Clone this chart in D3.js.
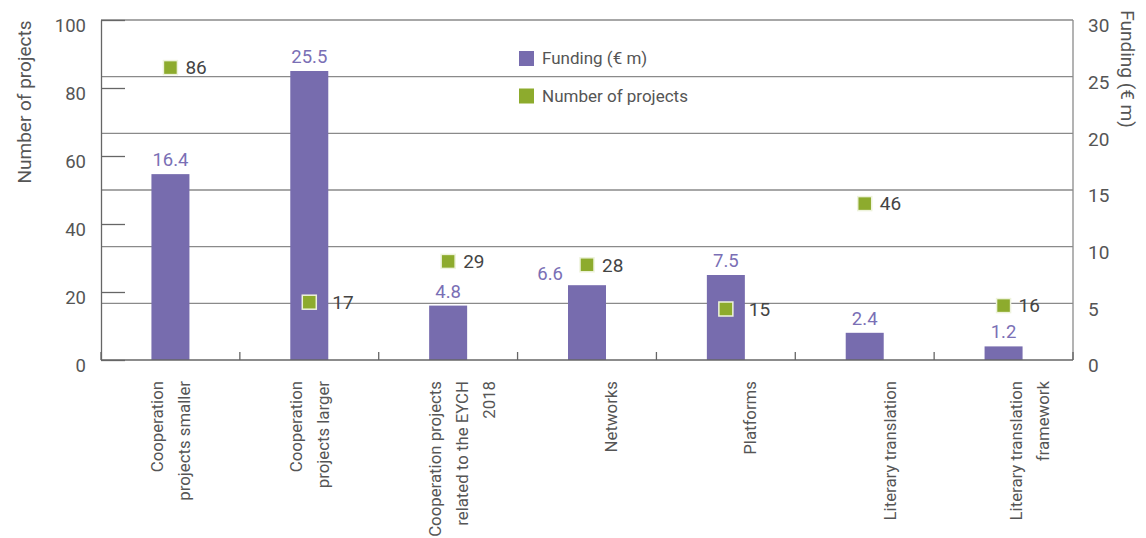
<!DOCTYPE html>
<html>
<head>
<meta charset="utf-8">
<script src="https://cdn.jsdelivr.net/npm/d3@7"></script>
<style>
  body { margin: 0; background: #fff; }
  text { font-family: Roboto, "Noto Sans", sans-serif; }
</style>
</head>
<body>
<svg id="chart"></svg>
<script>
/* data */
const categories = [
  "Cooperation projects smaller",
  "Cooperation projects larger",
  "Cooperation projects related to the EYCH 2018",
  "Networks",
  "Platforms",
  "Literary translation",
  "Literary translation framework"
];
const categoryLines = [
  ["Cooperation", "projects smaller"],
  ["Cooperation", "projects larger"],
  ["Cooperation projects", "related to the EYCH", "2018"],
  ["Networks"],
  ["Platforms"],
  ["Literary translation"],
  ["Literary translation", "framework"]
];
const funding = [16.4, 25.5, 4.8, 6.6, 7.5, 2.4, 1.2];
const projects = [86, 17, 29, 28, 15, 46, 16];
const leftTicks = [0, 20, 40, 60, 80, 100];
const rightTicks = [0, 5, 10, 15, 20, 25, 30];

/* layout */
const width = 1146, height = 538;
const plot = { left: 101, right: 1073, top: 20, bottom: 360 };
const labelNudge = [0, 0, 14, 24, 24, 25, 26];
const purple = "#776cae";
const green = "#8dab2d";
const textCol = "#555";

let svg = d3.select("#chart")
  .attr("width", width)
  .attr("height", height);

let x = d3.scaleBand()
  .domain(categories)
  .range([plot.left, plot.right]);

let yL = d3.scaleLinear().domain([0, 100]).range([plot.bottom, plot.top]);
let yR = d3.scaleLinear().domain([0, 30]).range([plot.bottom, plot.top]);

// gridlines from the funding axis
svg.append("g")
  .selectAll("line")
  .data(rightTicks.filter(d => d > 0))
  .enter().append("line")
  .attr("x1", plot.left)
  .attr("x2", plot.right)
  .attr("y1", d => yR(d))
  .attr("y2", d => yR(d))
  .attr("stroke", "#8a8a8a")
  .attr("stroke-width", 1.3);

// right frame line
svg.append("line")
  .attr("x1", plot.right).attr("x2", plot.right)
  .attr("y1", plot.top).attr("y2", plot.bottom)
  .attr("stroke", "#8a8a8a")
  .attr("stroke-width", 1.3);

// left axis: inner ticks + line
let leftAx = svg.append("g")
  .attr("transform", "translate(" + plot.left + ",0)")
  .call(d3.axisRight(yL).tickValues(leftTicks).tickSizeInner(24).tickSizeOuter(0).tickFormat(""));
leftAx.selectAll("path, line").attr("stroke", "#666").attr("stroke-width", 1.3);

// left tick labels
let leftLab = svg.append("g")
  .attr("transform", "translate(" + plot.left + ",0)")
  .call(d3.axisLeft(yL).tickValues(leftTicks).tickSize(0).tickPadding(15));
leftLab.select(".domain").remove();
leftLab.selectAll("text")
  .attr("font-size", 18.5)
  .attr("fill", textCol)
  .attr("dy", "0.62em")
  .style("font-family", "Roboto, sans-serif");

// right tick labels
let rightLab = svg.append("g")
  .attr("transform", "translate(" + plot.right + ",0)")
  .call(d3.axisRight(yR).tickValues(rightTicks).tickSize(0).tickPadding(15));
rightLab.select(".domain").remove();
rightLab.selectAll("text")
  .attr("font-size", 19)
  .attr("fill", textCol)
  .attr("dy", "0.62em")
  .style("font-family", "Roboto, sans-serif");

// bars
svg.append("g")
  .selectAll("rect")
  .data(funding)
  .enter().append("rect")
  .attr("x", (d, i) => x(categories[i]) + x.bandwidth() / 2 - 19)
  .attr("width", 38)
  .attr("y", d => yR(d))
  .attr("height", d => yR(0) - yR(d))
  .attr("fill", purple);

// bottom axis with boundary ticks
let bounds = categories.map(c => x(c)).concat([plot.right]);
svg.append("line")
  .attr("x1", plot.left).attr("x2", plot.right)
  .attr("y1", plot.bottom).attr("y2", plot.bottom)
  .attr("stroke", "#666")
  .attr("stroke-width", 1.5);
svg.append("g")
  .selectAll("line")
  .data(bounds)
  .enter().append("line")
  .attr("x1", d => d).attr("x2", d => d)
  .attr("y1", plot.bottom).attr("y2", plot.bottom - 8)
  .attr("stroke", "#666")
  .attr("stroke-width", 1.3);

// bar labels
svg.append("g")
  .selectAll("text")
  .data(funding)
  .enter().append("text")
  .each(function(d, i) {
    let cx = x(categories[i]) + x.bandwidth() / 2;
    let top = yR(d);
    let sq = yL(projects[i]);
    let clash = sq < top && top - sq < 30;
    d3.select(this)
      .attr("x", clash ? cx - 24 : cx)
      .attr("y", clash ? top - 5 : top - 8)
      .attr("text-anchor", clash ? "end" : "middle");
  })
  .attr("font-size", 18.5)
  .attr("fill", "#7a6fb5")
  .text(d => d.toFixed(1));

// project markers
let marks = svg.append("g")
  .selectAll("g")
  .data(projects)
  .enter().append("g")
  .attr("transform", (d, i) =>
    "translate(" + (x(categories[i]) + x.bandwidth() / 2) + "," + yL(d) + ")");

marks.append("rect")
  .attr("x", -7).attr("y", -7)
  .attr("width", 14).attr("height", 14)
  .attr("fill", green)
  .attr("stroke", "#eef3dc")
  .attr("stroke-width", 1.5);

marks.append("text")
  .attr("x", (d, i) => yL(d) > yR(funding[i]) ? 23 : 15)
  .attr("dy", "0.36em")
  .attr("font-size", 19)
  .attr("fill", "#444")
  .text(d => d);

// category labels
let cats = svg.append("g")
  .selectAll("g")
  .data(categoryLines)
  .enter().append("g");

cats.each(function(lines, i) {
  let cx = x(categories[i]) + x.bandwidth() / 2 + labelNudge[i];
  let first = cx - (lines.length - 1) * 27 / 2;
  d3.select(this).selectAll("text")
    .data(lines)
    .enter().append("text")
    .attr("transform", (l, j) => "translate(" + (first + j * 27) + ",381) rotate(-90)")
    .attr("text-anchor", "end")
    .attr("dy", "0.35em")
    .attr("font-size", 16.8)
    .attr("fill", textCol)
    .text(l => l);
});

// axis titles
svg.append("text")
  .attr("transform", "translate(24,102) rotate(-90)")
  .attr("text-anchor", "middle")
  .attr("dy", "0.35em")
  .attr("font-size", 19)
  .attr("fill", textCol)
  .text("Number of projects");

svg.append("text")
  .attr("transform", "translate(1128,69) rotate(90)")
  .attr("text-anchor", "middle")
  .attr("dy", "0.35em")
  .attr("font-size", 19)
  .attr("fill", textCol)
  .text("Funding (€ m)");

// legend
let legend = [
  { name: "Funding (€ m)", color: purple },
  { name: "Number of projects", color: green }
];
let lg = svg.append("g")
  .selectAll("g")
  .data(legend)
  .enter().append("g")
  .attr("transform", (d, i) => "translate(519," + (51 + i * 37.5) + ")");
lg.append("rect")
  .attr("width", 15).attr("height", 15)
  .attr("fill", d => d.color);
lg.append("text")
  .attr("x", 23)
  .attr("y", 7.5)
  .attr("dy", "0.35em")
  .attr("font-size", 17)
  .attr("fill", textCol)
  .text(d => d.name);
</script>
</body>
</html>
